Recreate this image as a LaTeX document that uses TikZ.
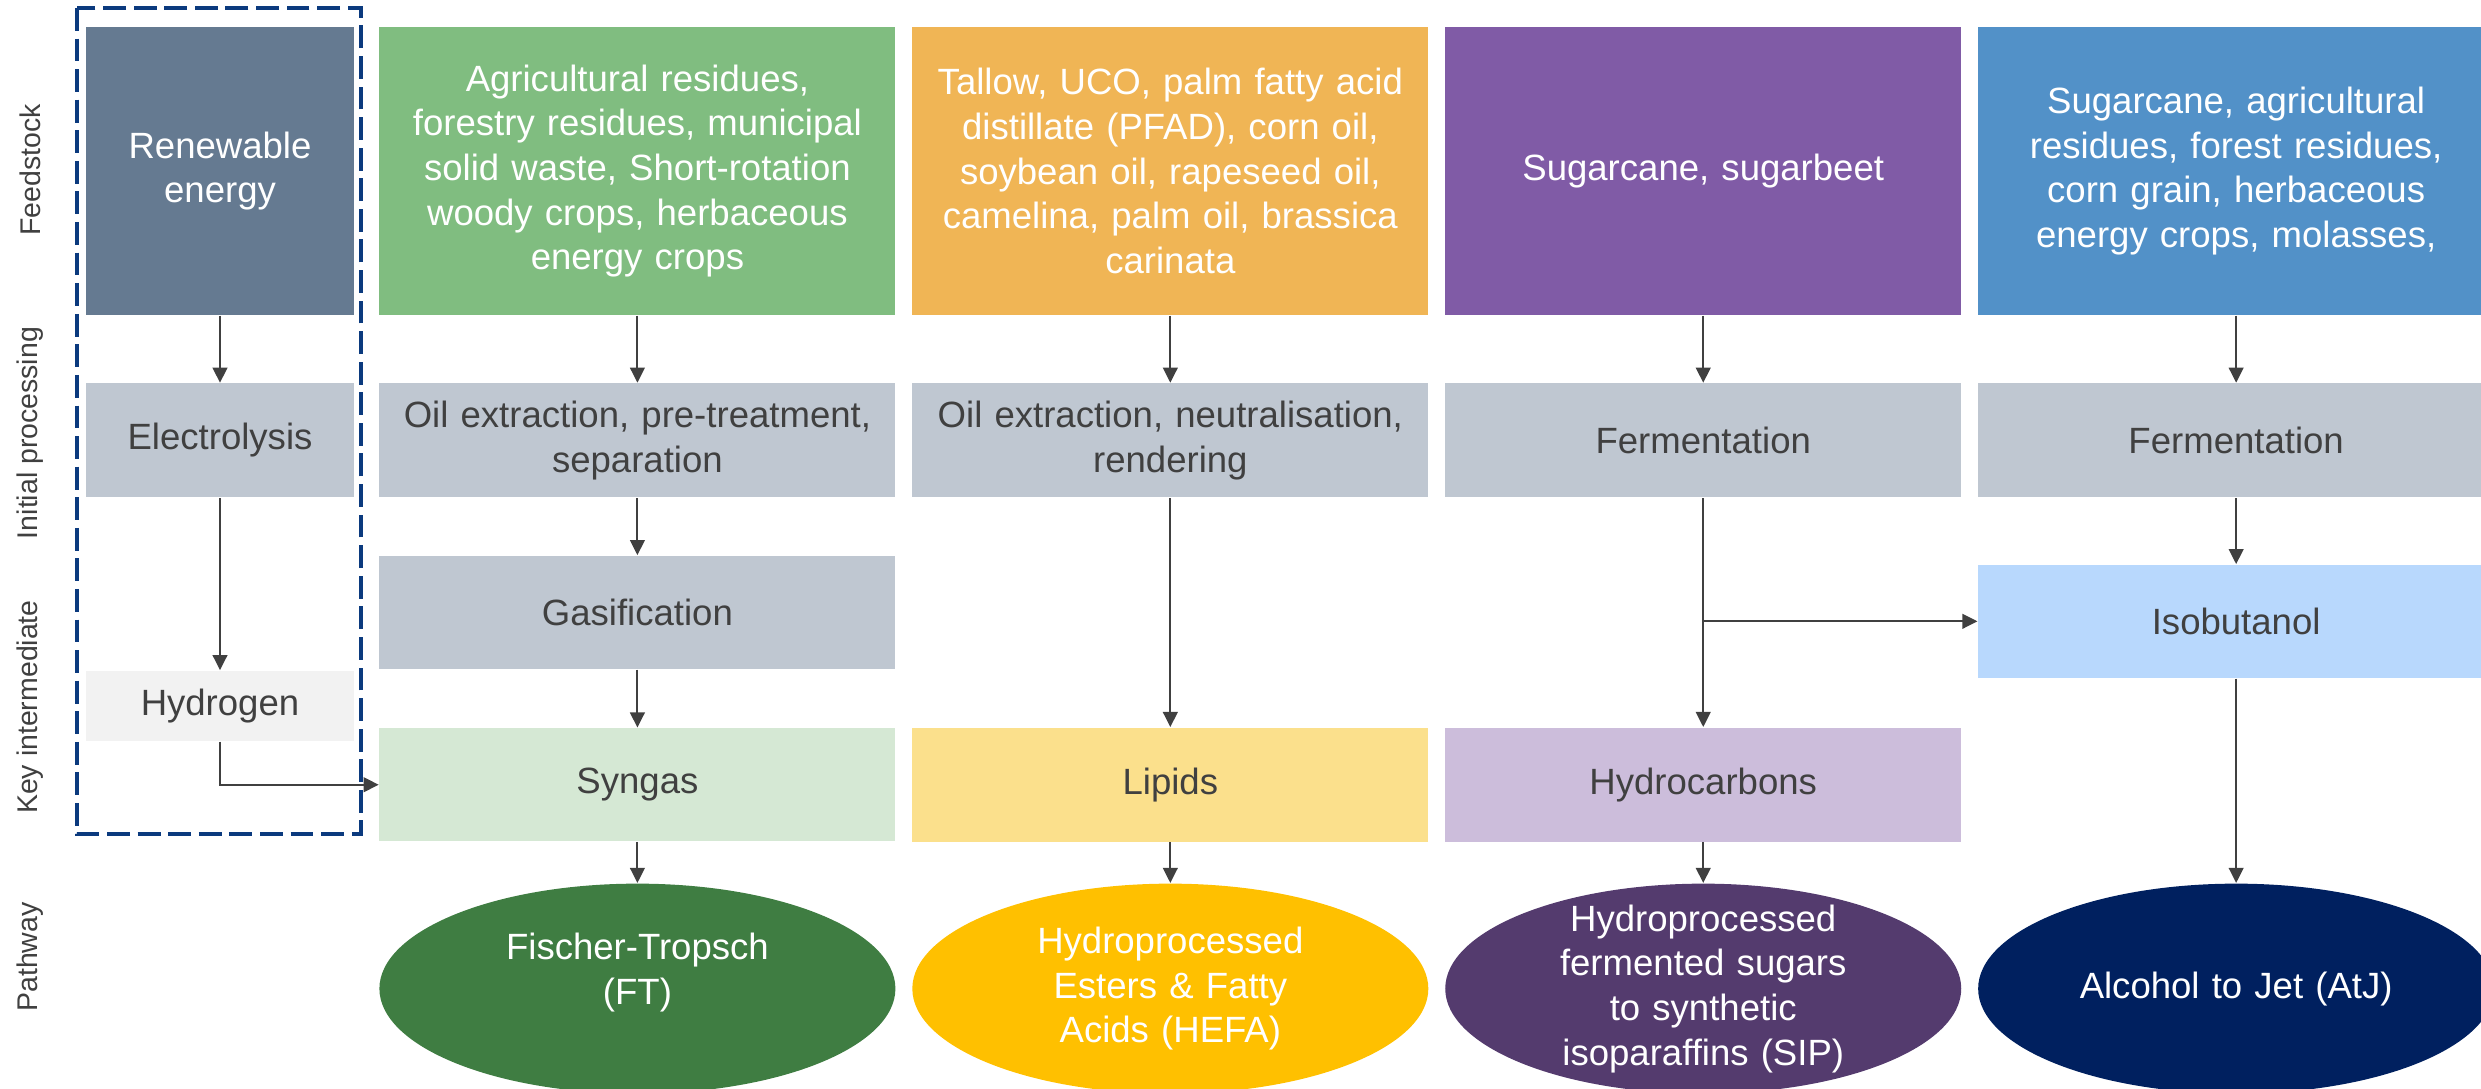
\documentclass[tikz,border=0pt]{standalone}
\usepackage{fontspec}
\setmainfont{Liberation Sans}
\usetikzlibrary{arrows.meta,positioning,shapes.geometric}
\definecolor{RenewSlate}{HTML}{657A91}
\definecolor{ProcGrey}{HTML}{BFC7D1}
\definecolor{HydroGrey}{HTML}{F2F2F2}
\definecolor{FeedGreen}{HTML}{80BD80}
\definecolor{FeedOrange}{HTML}{F0B555}
\definecolor{FeedPurple}{HTML}{805BA6}
\definecolor{FeedBlue}{HTML}{5291C8}
\definecolor{SyngasGreen}{HTML}{D5E8D4}
\definecolor{LipidYellow}{HTML}{FBE08C}
\definecolor{CarbonLilac}{HTML}{CCBDDB}
\definecolor{IsoBlue}{HTML}{B8D8FD}
\definecolor{FTGreen}{HTML}{3F7D42}
\definecolor{HEFAGold}{HTML}{FFC000}
\definecolor{SIPPurple}{HTML}{543B6E}
\definecolor{AtJNavy}{HTML}{00205F}
\definecolor{FrameBlue}{HTML}{0B3A7E}
\definecolor{ArrowGrey}{HTML}{404040}
\definecolor{TextGrey}{HTML}{404040}
\tikzset{
  feedbox/.style={rectangle, inner sep=0pt, align=center, text=white, minimum width=51.6mm, text width=50mm, minimum height=28.8mm},
  procbox/.style={rectangle, inner sep=0pt, align=center, fill=ProcGrey, text=TextGrey, minimum width=51.6mm, text width=50mm, minimum height=11.4mm},
  midbox/.style={rectangle, inner sep=0pt, align=center, text=TextGrey, minimum width=51.6mm, text width=50mm, minimum height=11.3mm},
  pathway/.style={ellipse, inner xsep=0pt, inner ysep=-2mm, align=center, text=white, minimum width=51.6mm, text width=33mm, minimum height=21mm},
  rowlabel/.style={rotate=90, text=TextGrey, font=\fontsize{8.1}{10}\selectfont},
  arrow/.style={-{Triangle[length=4.3pt, width=4.2pt]}, line width=0.55pt, draw=ArrowGrey},
  groupframe/.style={draw=FrameBlue, line width=0.9pt, dash pattern=on 6.5pt off 2.2pt}
}

\begin{document}
\begin{tikzpicture}[x=1mm, y=1mm, font=\fontsize{10.4}{12.7}\selectfont]
    \useasboundingbox (0,0) rectangle (248.1,-108.8);

    \node[rowlabel] (lblfeed) at (3.0,-17.0) {Feedstock};
    \node[rowlabel] (lblinit) at (3.0,-43.3) {Initial processing};
    \node[rowlabel] (lblkey) at (3.0,-70.7) {Key intermediate};
    \node[rowlabel] (lblpath) at (3.0,-95.7) {Pathway};

    \node[feedbox, fill=RenewSlate, minimum width=26.8mm, text width=25mm] (renew) at (22.0,-17.1) {Renewable\\energy};
    \node[feedbox, fill=FeedGreen, right=2.4mm of renew] (agri) {Agricultural residues,\\forestry residues, municipal\\solid waste, Short-rotation\\woody crops, herbaceous\\energy crops};
    \node[feedbox, fill=FeedOrange, right=1.55mm of agri] (tallow) {Tallow, UCO, palm fatty acid\\distillate (PFAD), corn oil,\\soybean oil, rapeseed oil,\\camelina, palm oil, brassica\\carinata};
    \node[feedbox, fill=FeedPurple, right=1.55mm of tallow] (sugar) {Sugarcane, sugarbeet};
    \node[feedbox, fill=FeedBlue, right=1.55mm of sugar] (cane) {Sugarcane, agricultural\\residues, forest residues,\\corn grain, herbaceous\\energy crops, molasses,};

    \node[procbox, minimum width=26.8mm, text width=25mm, below=6.7mm of renew] (electro) {Electrolysis};
    \node[procbox, right=2.4mm of electro] (oilsep) {Oil extraction, pre-treatment,\\separation};
    \node[procbox, right=1.55mm of oilsep] (oilneut) {Oil extraction, neutralisation,\\rendering};
    \node[procbox, right=1.55mm of oilneut] (fermsip) {Fermentation};
    \node[procbox, right=1.55mm of fermsip] (fermatj) {Fermentation};

    \node[midbox, fill=HydroGrey, minimum width=26.8mm, text width=25mm, minimum height=7mm, below=17.2mm of electro] (hydrogen) {Hydrogen};
    \node[procbox, minimum height=11.3mm, below=5.7mm of oilsep] (gasif) {Gasification};
    \node[midbox, fill=IsoBlue, below=6.6mm of fermatj] (isobut) {Isobutanol};

    \node[midbox, fill=SyngasGreen, below=5.8mm of gasif] (syngas) {Syngas};
    \node[midbox, fill=LipidYellow, minimum height=11.4mm, right=1.55mm of syngas] (lipids) {Lipids};
    \node[midbox, fill=CarbonLilac, minimum height=11.4mm, right=1.55mm of lipids] (hydrocarb) {Hydrocarbons};

    \node[pathway, fill=FTGreen, below=4.1mm of syngas] (ft) {Fischer-Tropsch\\(FT)\\[-1.3pt]\mbox{}};
    \node[pathway, fill=HEFAGold, right=1.55mm of ft] (hefa) {Hydroprocessed\\Esters \& Fatty\\Acids (HEFA)};
    \node[pathway, fill=SIPPurple, right=1.55mm of hefa] (sip) {Hydroprocessed\\fermented sugars\\to synthetic\\isoparaffins (SIP)};
    \node[pathway, fill=AtJNavy, right=1.55mm of sip] (atj) {Alcohol to Jet (AtJ)};

    \draw[groupframe] (7.7,-0.8) rectangle (36.1,-83.4);

    \coordinate (split) at (fermsip.south |- isobut.west);

    \draw[arrow] (renew) -- (electro);
    \draw[arrow] (electro) -- (hydrogen);
    \draw[arrow] (hydrogen) |- (syngas);
    \draw[arrow] (agri) -- (oilsep);
    \draw[arrow] (oilsep) -- (gasif);
    \draw[arrow] (gasif) -- (syngas);
    \draw[arrow] (syngas) -- (ft);
    \draw[arrow] (tallow) -- (oilneut);
    \draw[arrow] (oilneut) -- (lipids);
    \draw[arrow] (lipids) -- (hefa);
    \draw[arrow] (sugar) -- (fermsip);
    \draw[arrow] (fermsip) -- (hydrocarb);
    \draw[arrow] (split) -- (isobut);
    \draw[arrow] (hydrocarb) -- (sip);
    \draw[arrow] (cane) -- (fermatj);
    \draw[arrow] (fermatj) -- (isobut);
    \draw[arrow] (isobut) -- (atj);
  \end{tikzpicture}
\end{document}
